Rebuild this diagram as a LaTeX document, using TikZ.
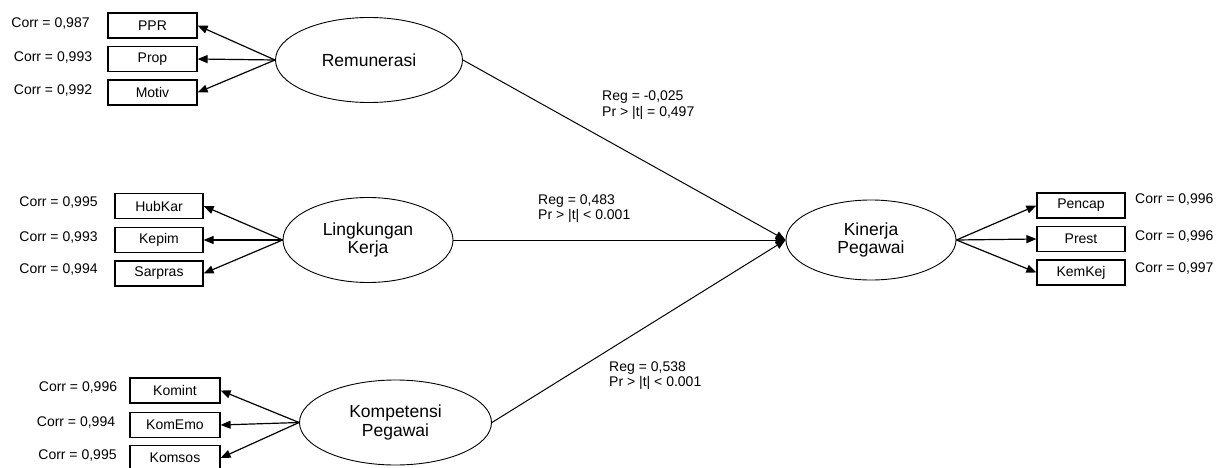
\documentclass[tikz,border=0pt]{standalone}
\usepackage{fontspec}
\setmainfont{Liberation Sans}
\usetikzlibrary{arrows.meta,shapes.geometric}
\begin{document}
\begin{tikzpicture}[x=1pt,y=-1pt,
  ind/.style={draw,line width=1.2pt,minimum width=89pt,minimum height=25pt,inner sep=0pt,font=\fontsize{14}{15}\selectfont},
  lat/.style={draw,ellipse,line width=0.9pt,inner sep=0pt,align=center,font=\fontsize{17.5}{18.5}\selectfont},
  lab/.style={inner sep=0pt,font=\fontsize{14}{15}\selectfont},
  reg/.style={inner sep=0pt,align=left,anchor=west,font=\fontsize{14}{15.5}\selectfont},
  arr/.style={line width=1.2pt,-{Triangle[length=10pt,width=8pt]}},
  path/.style={line width=1pt,-{Triangle[length=10pt,width=8pt]}}]
\useasboundingbox (0,0) rectangle (1216,468);

% latent variables
\node[lat,minimum width=187pt,minimum height=85pt] (rem) at (369,60) {Remunerasi};
\node[lat,minimum width=170pt,minimum height=85pt] (lk) at (368,240) {Lingkungan\\Kerja};
\node[lat,minimum width=192pt,minimum height=85pt] (kp) at (395.5,422.5) {Kompetensi\\Pegawai};
\node[lat,minimum width=170pt,minimum height=80pt] (kin) at (871,240) {Kinerja\\Pegawai};

% indicators
\node[ind] (ppr) at (152.5,25.5) {PPR};
\node[ind] (prop) at (152.5,59) {Prop};
\node[ind] (motiv) at (152.5,92.5) {Motiv};
\node[ind,minimum width=88pt] (hub) at (159,206) {HubKar};
\node[ind,minimum width=88pt] (kepim) at (159,240) {Kepim};
\node[ind,minimum width=88pt] (sar) at (159,273.5) {Sarpras};
\node[ind,minimum width=90pt] (komint) at (175,390.5) {Komint};
\node[ind,minimum width=90pt] (komemo) at (175,425) {KomEmo};
\node[ind,minimum width=90pt] (komsos) at (175,458) {Komsos};
\node[ind,minimum width=88pt] (pencap) at (1081,205.5) {Pencap};
\node[ind,minimum width=88pt] (prest) at (1081,239) {Prest};
\node[ind,minimum width=88pt] (kemkej) at (1081,272.5) {KemKej};

% correlation labels
\node[lab] (c1) at (50.5,24) {Corr = 0,987};
\node[lab] (c2) at (53,58) {Corr = 0,993};
\node[lab] (c3) at (53,91) {Corr = 0,992};
\node[lab] (c4) at (58.5,203) {Corr = 0,995};
\node[lab] (c5) at (58.5,238) {Corr = 0,993};
\node[lab] (c6) at (58.5,270) {Corr = 0,994};
\node[lab] (c7) at (78,388) {Corr = 0,996};
\node[lab] (c8) at (76,423) {Corr = 0,994};
\node[lab] (c9) at (77.5,456) {Corr = 0,995};
\node[lab,anchor=west] (c10) at (1135,200) {Corr = 0,996};
\node[lab,anchor=west] (c11) at (1135,237) {Corr = 0,996};
\node[lab,anchor=west] (c12) at (1135,269) {Corr = 0,997};

% regression labels
\node[reg] (r1) at (602,105) {Reg = -0,025\\Pr > |t| = 0,497};
\node[reg] (r2) at (538,208.5) {Reg = 0,483\\Pr > |t| < 0.001};
\node[reg] (r3) at (609,375.5) {Reg = 0,538\\Pr > |t| < 0.001};

% measurement arrows
\draw[arr] (rem.west) -- (ppr.east);
\draw[arr] (rem.west) -- (prop.east);
\draw[arr] (rem.west) -- (motiv.east);
\draw[arr] (lk.west) -- (hub.east);
\draw[arr] (lk.west) -- (kepim.east);
\draw[arr] (lk.west) -- (sar.east);
\draw[arr] (kp.west) -- (komint.east);
\draw[arr] (kp.west) -- (komemo.east);
\draw[arr] (kp.west) -- (komsos.east);
\draw[arr] (kin.east) -- (pencap.west);
\draw[arr] (kin.east) -- (prest.west);
\draw[arr] (kin.east) -- (kemkej.west);

% structural paths
\draw[path] (rem.east) -- (kin.west);
\draw[path] (lk.east) -- (kin.west);
\draw[path] (kp.east) -- (kin.west);
\end{tikzpicture}
\end{document}
